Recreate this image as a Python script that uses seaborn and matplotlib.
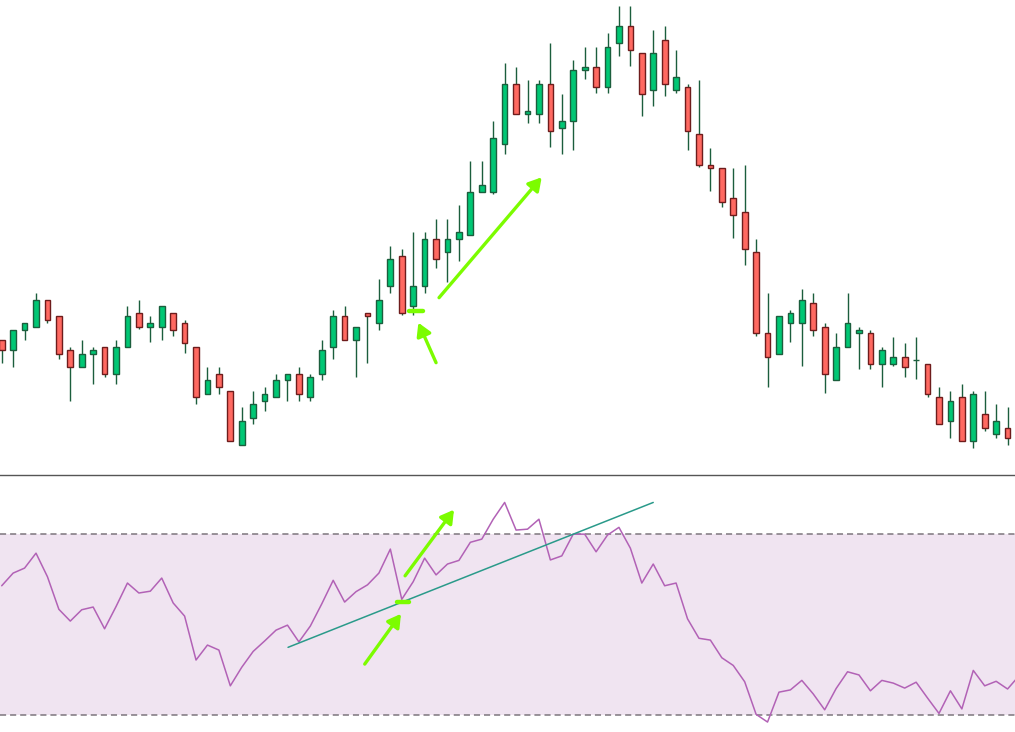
import numpy as np
import pandas as pd
import seaborn as sns
import matplotlib.pyplot as plt

# candle data (price units)
opens = [140, 130, 150, 153, 180, 164, 130, 113, 126, 133, 106, 133, 167, 153, 153, 167, 157, 133, 86, 106,
         89, 35, 62, 79, 83, 100, 106, 83, 106, 133, 164, 140, 167, 157, 194, 224, 174, 194, 241, 228,
         241, 245, 288, 288, 336, 396, 366, 366, 396, 352, 359, 410, 413, 393, 437, 454, 427, 390, 440, 390,
         393, 346, 315, 312, 282, 268, 228, 147, 126, 157, 157, 177, 153, 100, 133, 147, 147, 116, 116, 123,
         120, 116, 83, 59, 83, 39, 66, 46, 52]
highs = [140, 150, 157, 187, 180, 164, 133, 140, 133, 133, 140, 174, 180, 164, 174, 167, 160, 133, 113, 113,
         89, 73, 89, 93, 106, 106, 113, 106, 140, 170, 174, 153, 167, 201, 234, 231, 248, 248, 261, 261,
         275, 319, 319, 359, 417, 413, 400, 400, 437, 386, 420, 433, 433, 447, 474, 474, 427, 450, 454, 430,
         396, 400, 332, 312, 312, 315, 241, 187, 164, 170, 191, 187, 157, 147, 187, 153, 150, 133, 143, 137,
         143, 116, 93, 89, 96, 89, 89, 76, 73]
lows = [117, 113, 140, 153, 157, 121, 79, 113, 96, 103, 96, 133, 151, 138, 140, 144, 127, 76, 86, 86,
        39, 35, 56, 69, 83, 79, 79, 79, 100, 121, 140, 103, 117, 150, 187, 165, 165, 187, 212, 198,
        219, 245, 288, 286, 326, 366, 357, 357, 333, 326, 330, 401, 387, 387, 424, 414, 364, 374, 384, 387,
        330, 313, 289, 273, 242, 215, 144, 93, 126, 138, 114, 144, 87, 100, 133, 111, 111, 93, 114, 103,
        101, 83, 56, 42, 39, 32, 49, 42, 35]
closes = [130, 150, 157, 180, 160, 126, 113, 126, 130, 106, 133, 164, 153, 157, 174, 150, 137, 83, 100, 93,
          39, 59, 76, 86, 100, 106, 86, 103, 130, 164, 140, 153, 164, 180, 221, 167, 194, 241, 221, 241,
          248, 288, 295, 342, 396, 366, 369, 396, 349, 359, 410, 413, 393, 433, 454, 430, 386, 427, 396, 403,
          349, 315, 312, 278, 265, 231, 147, 123, 164, 167, 180, 150, 106, 133, 157, 150, 116, 130, 123, 113,
          120, 86, 56, 79, 39, 86, 52, 59, 42]

# RSI values (last point runs past the right edge)
rsi = [58.6, 61.4, 62.5, 65.8, 60.6, 53.4, 50.8, 53.3, 53.9, 49.1, 54.0, 59.2, 57.0, 57.4, 60.3, 54.8, 51.9, 42.2,
       45.5, 44.4, 36.5, 40.6, 44.1, 46.4, 48.8, 49.9, 46.2, 49.7, 54.6, 59.8, 55.0, 57.3, 58.8, 61.4, 66.7, 55.6,
       59.5, 64.7, 61.0, 63.4, 64.2, 68.2, 68.9, 73.3, 77.0, 70.9, 71.1, 73.3, 64.3, 65.2, 70.0, 70.0, 66.1, 69.8,
       71.5, 66.9, 59.2, 63.4, 58.6, 59.2, 51.3, 47.0, 46.6, 42.7, 41.0, 37.4, 30.2, 28.5, 35.1, 35.6, 37.7, 34.7,
       31.2, 35.9, 39.6, 38.9, 35.4, 37.7, 37.1, 36.0, 37.3, 33.8, 30.4, 35.4, 31.4, 39.9, 36.5, 37.5, 35.8, 38.7]

# trendline on the RSI (start/end in bar index and RSI value)
trend_x = [25.05, 57.0]
trend_y = [45.0, 77.0]

df = pd.DataFrame({"open": opens, "high": highs, "low": lows, "close": closes})
df["idx"] = np.arange(len(df))
df["up"] = df["close"] >= df["open"]
rsi_df = pd.DataFrame({"idx": np.arange(len(rsi)), "rsi": rsi})

sns.set_style("white")

green = "#00c774"
green_edge = "#1b5e3d"
red = "#ff6961"
red_edge = "#6e1c1c"
lime = "#7cfc00"

fig = plt.figure(figsize=(10.15, 7.32), dpi=100)
ax1 = fig.add_axes([0, 0.3507, 1, 0.6493])
ax2 = fig.add_axes([0, 0, 1, 0.3507])

xlim = (-0.15, 88.65)

# candles
ax1.vlines(df["idx"], df["low"], df["high"], color=green_edge, lw=1.0, zorder=1)
for up, fc, ec in [(True, green, green_edge), (False, red, red_edge)]:
    d = df[df["up"] == up]
    bottom = d[["open", "close"]].min(axis=1)
    height = (d["close"] - d["open"]).abs()
    ax1.bar(d["idx"], height, bottom=bottom, width=0.5, color=fc,
            edgecolor=ec, linewidth=1.0, zorder=2)

ax1.set_xlim(*xlim)
ax1.set_ylim(4.7, 480)

# annotations on the price panel
arrow_kw = dict(arrowstyle="-|>,head_length=0.55,head_width=0.32", color=lime,
                lw=2.4, mutation_scale=14, shrinkA=0, shrinkB=0)
ax1.annotate("", xy=(47.24, 302.7), xytext=(38.26, 182.3), arrowprops=arrow_kw, zorder=5)
ax1.annotate("", xy=(36.45, 157.3), xytext=(38.0, 117.3), arrowprops=arrow_kw, zorder=5)
ax1.plot([35.6, 36.85], [168.7, 168.7], color=lime, lw=3.2, solid_capstyle="round", zorder=5)

# RSI panel
ax2.axhspan(30, 70, color="#f0e4f1", lw=0, zorder=0)
for lvl in (30, 70):
    ax2.axhline(lvl, color="#7d767d", lw=1.1, linestyle=(0, (4, 2.6)), zorder=1)
sns.lineplot(data=rsi_df, x="idx", y="rsi", ax=ax2, color="#b262b6", lw=1.1, zorder=3)
ax2.plot(trend_x, trend_y, color="#2a9a8a", lw=1.1, zorder=4)

ax2.annotate("", xy=(39.57, 75.4), xytext=(35.29, 60.8), arrowprops=arrow_kw, zorder=5)
ax2.annotate("", xy=(34.93, 52.4), xytext=(31.76, 41.3), arrowprops=arrow_kw, zorder=5)
ax2.plot([34.6, 35.6], [55.0, 55.0], color=lime, lw=3.2, solid_capstyle="round", zorder=5)

ax2.set_xlim(*xlim)
ax2.set_ylim(26.3, 83.0)

for ax in (ax1, ax2):
    ax.set_xticks([])
    ax.set_yticks([])
    ax.set_xlabel("")
    ax.set_ylabel("")
    for s in ax.spines.values():
        s.set_visible(False)
ax2.spines["top"].set_visible(True)
ax2.spines["top"].set_color("#555555")
ax2.spines["top"].set_linewidth(1.0)

fig.savefig("out.png", dpi=100)
